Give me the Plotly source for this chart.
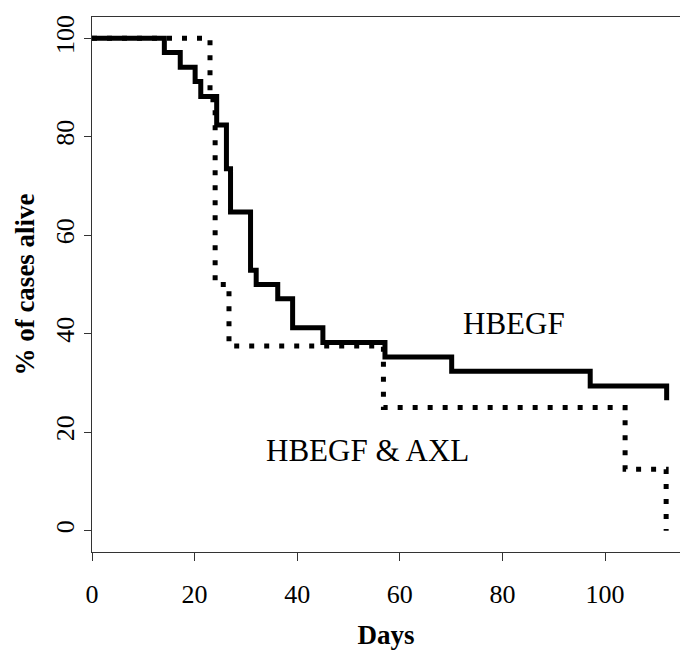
import plotly.graph_objects as go

# HBEGF (solid) step curve: day of step, % alive after step
hbegf_days = [0, 14.1, 17.2, 20.1, 21.2, 24.3, 26.2, 27.0, 30.9, 32.0, 36.2, 39.1, 45.0, 57.1, 70.1, 97.1, 112.0]
hbegf_pct = [100, 97.1, 94.1, 91.2, 88.2, 82.4, 73.5, 64.7, 52.9, 50.0, 47.1, 41.2, 38.2, 35.3, 32.4, 29.4, 26.5]

# HBEGF & AXL (dotted) step curve
axl_days = [0, 23.0, 24.0, 26.7, 56.8, 103.9, 111.9]
axl_pct = [100, 87.5, 50.0, 37.5, 25.0, 12.5, 0.0]

x_ticks = [0, 20, 40, 60, 80, 100]
y_ticks = [0, 20, 40, 60, 80, 100]

FONT = "Liberation Serif, Times New Roman, serif"

fig = go.Figure()
fig.add_trace(go.Scatter(x=hbegf_days, y=hbegf_pct, mode="lines", line_shape="hv",
                         line=dict(color="black", width=5), name="HBEGF", showlegend=False))
fig.add_trace(go.Scatter(x=axl_days, y=axl_pct, mode="lines", line_shape="hv",
                         line=dict(color="black", width=5, dash="5px,10px"),
                         name="HBEGF & AXL", showlegend=False))

fig.add_annotation(x=82.3, y=42, text="HBEGF", showarrow=False, xanchor="center", yanchor="middle",
                   font=dict(family=FONT, size=31, color="black"))
fig.add_annotation(x=53.6, y=16.2, text="HBEGF &amp; AXL", showarrow=False, xanchor="center", yanchor="middle",
                   font=dict(family=FONT, size=31, color="black"))

fig.update_layout(
    width=680, height=652,
    margin=dict(l=92, r=0, t=17, b=100),
    paper_bgcolor="white", plot_bgcolor="white",
    font=dict(family=FONT, color="black"),
)
fig.update_xaxes(range=[0, 114.6], tickvals=x_ticks, ticks="outside", ticklen=8, tickcolor="#333",
                 showline=True, linecolor="#333", linewidth=1, mirror=True, showgrid=False, zeroline=False,
                 automargin=False,
                 tickfont=dict(family=FONT, size=26, color="black"), ticklabelstandoff=11,
                 title=dict(text="<b>Days</b>", font=dict(family=FONT, size=27, color="black"), standoff=16))
fig.update_yaxes(range=[-4.32, 104.32], tickvals=y_ticks, ticks="outside", ticklen=7, tickcolor="#333",
                 showline=True, linecolor="#333", linewidth=1, showgrid=False, zeroline=False,
                 automargin=False,
                 tickangle=-90, tickfont=dict(family=FONT, size=26, color="black"), ticklabelstandoff=0,
                 title=dict(text="<b>% of cases alive</b>", font=dict(family=FONT, size=27, color="black"), standoff=8))

fig.write_html("out.html", config={"displayModeBar": False},
               post_script="document.body.style.margin='0';document.body.style.overflow='hidden';")
